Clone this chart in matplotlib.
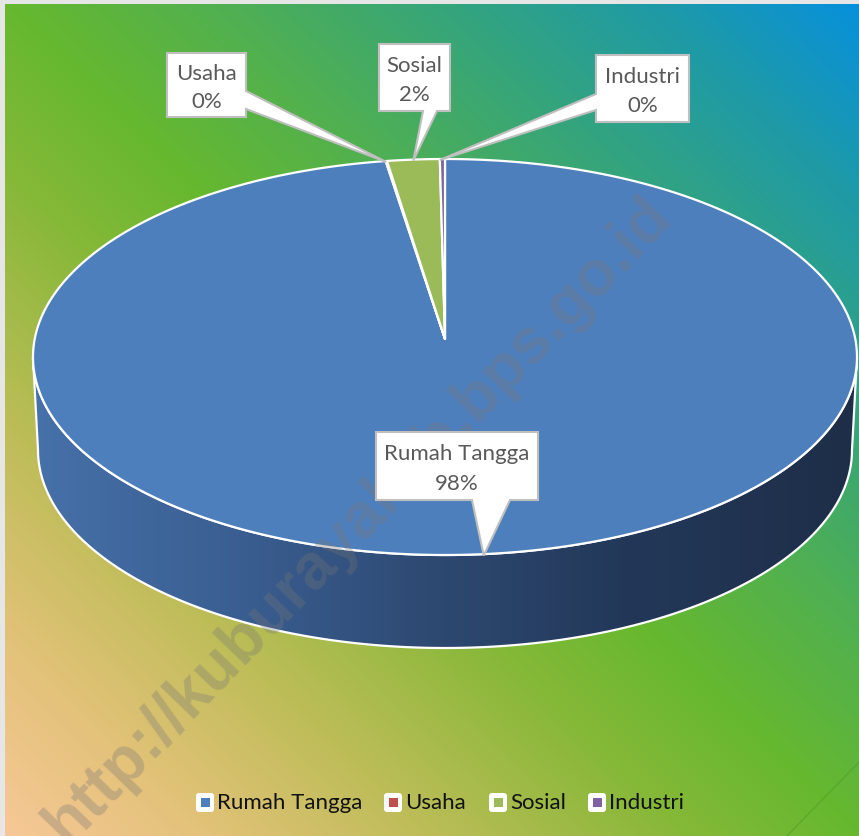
import numpy as np
import matplotlib
matplotlib.use('Agg')
import matplotlib.pyplot as plt
from matplotlib.patches import Polygon, FancyBboxPatch, Rectangle
from matplotlib.colors import to_rgb

# ---------------- data ----------------
categories = ['Rumah Tangga', 'Usaha', 'Sosial', 'Industri']
values = [97.7, 0.05, 2.05, 0.2]
pct_labels = ['98%', '0%', '2%', '0%']
colors = ['#4E7FBD', '#C0504D', '#9BBB59', '#8064A2']

W, H = 859, 837
fig = plt.figure(figsize=(W / 100, H / 100), dpi=100)
fig.patch.set_facecolor('#E6E6E6')
ax = fig.add_axes([0, 0, 1, 1])
ax.axis('off')

FONT = 'Lato'

# ---------------- background gradient ----------------
x0, y0 = 5, 5
yy, xx = np.mgrid[y0:H, x0:W] + 0.5
s = (xx / W + (H - yy) / H) / 2
stops = [0, .12, .25, .4, .5, .6, .75, .88, 1]
stop_cols = ['#F7C898', '#E3C279', '#BDBD58', '#86B838', '#66B82E',
             '#55B24A', '#36A57A', '#1E9AA8', '#0690DE']
rgb = np.array([to_rgb(c) for c in stop_cols])
img = np.stack([np.interp(s, stops, rgb[:, k]) for k in range(3)], axis=-1)
ax.imshow(img, extent=(x0, W, H, y0), zorder=0, interpolation='bilinear', aspect='auto')
# faint artefact line bottom right
ax.plot([787, 859], [837, 763], color='#4E9A2A', lw=1, alpha=0.5, zorder=1)

# ---------------- 3D pie geometry ----------------
cx, cy, a, b = 445, 358, 412, 198
depth, a_bot = 93, 407
apex = (445, 340)

fr = np.array(values) / sum(values)
angles = 90 - 360 * np.concatenate([[0], np.cumsum(fr)])


def rim(phi, ycen=cy, aa=a):
    p = np.radians(phi)
    return cx + aa * np.cos(p), ycen - b * np.sin(p)


# side wall
phi_top = np.linspace(180, 360, 300)
tx, ty = rim(phi_top)
bx, by = rim(phi_top[::-1], cy + depth, a_bot)
side_pts = np.column_stack([np.concatenate([tx, bx]), np.concatenate([ty, by])])
side = Polygon(side_pts, closed=True, facecolor='none', edgecolor='none', zorder=2)
ax.add_patch(side)
grad = np.linspace(0, 1, 256)
side_cols = np.array([to_rgb(c) for c in ['#4671A9', '#3A5E91', '#2D4870', '#233859', '#1E2E48']])
gpos = [0, .25, .5, .72, 1]
gimg = np.stack([np.interp(grad, gpos, side_cols[:, k]) for k in range(3)], axis=-1)[None, :, :]
gi = ax.imshow(gimg, extent=(cx - a, cx + a, cy + depth + b + 2, cy - 5), aspect='auto', zorder=2)
gi.set_clip_path(side)
ax.add_patch(Polygon(side_pts, closed=True, facecolor='none', edgecolor='white', lw=1.6, zorder=3))

# top slices
for i, c in enumerate(colors):
    ph = np.linspace(angles[i], angles[i + 1], max(3, int(abs(angles[i] - angles[i + 1]) * 2)))
    px, py = rim(ph)
    pts = np.column_stack([np.concatenate([[apex[0]], px]), np.concatenate([[apex[1]], py])])
    ax.add_patch(Polygon(pts, closed=True, facecolor=c, edgecolor='white', lw=1.6,
                         joinstyle='round', zorder=4))

# ---------------- watermark ----------------
ax.text(358, 520, 'http://kuburayakab.bps.go.id', rotation=46, ha='center', va='center',
        fontsize=46, fontweight='bold', family='Liberation Sans', color='#767676',
        alpha=0.32, zorder=5, rotation_mode='anchor')

# ---------------- callouts ----------------
boxes = {  # x0, y0, x1, y1
    'Rumah Tangga': (376, 433, 538, 501),
    'Usaha': (167, 54, 246, 118),
    'Sosial': (379, 45, 450, 112),
    'Industri': (596, 56, 689, 123),
}
mids = (angles[:-1] + angles[1:]) / 2


def callout(name, tip):
    X0, Y0, X1, Y1 = boxes[name]
    if name == 'Rumah Tangga':
        pts = [(X0, Y0), (X1, Y0), (X1, Y1), (510, Y1), tip, (472, Y1), (X0, Y1)]
    elif name == 'Usaha':
        pts = [(X0, Y0), (X1, Y0), (X1, 92), tip, (X1, 110), (X1, Y1), (X0, Y1)]
    elif name == 'Sosial':
        pts = [(X0, Y0), (X1, Y0), (X1, Y1), (437, Y1), tip, (423, Y1), (X0, Y1)]
    else:
        pts = [(X0, Y0), (X1, Y0), (X1, Y1), (X0, Y1), (X0, 111), tip, (X0, 95)]
    ax.add_patch(Polygon(pts, closed=True, facecolor='white', edgecolor='#BFBFBF',
                         lw=1.5, joinstyle='miter', zorder=6))


for i, name in enumerate(categories):
    tx_, ty_ = rim(mids[i])
    if name == 'Industri':
        tx_, ty_ = rim(angles[i])
    callout(name, (tx_ + (9 if name == 'Rumah Tangga' else 0), ty_ + 1))
    X0, Y0, X1, Y1 = boxes[name]
    xc = (X0 + X1) / 2
    hgt = Y1 - Y0
    ax.text(xc, Y0 + hgt * 0.31, name, ha='center', va='center', fontsize=16,
            family=FONT, color='#595959', zorder=7)
    ax.text(xc, Y0 + hgt * 0.75, pct_labels[i], ha='center', va='center', fontsize=16,
            family=FONT, color='#595959', zorder=7)

# ---------------- legend ----------------
leg_x = [196, 384, 489, 588]
leg_y = 803.5
for i, name in enumerate(categories):
    lx = leg_x[i]
    ax.add_patch(FancyBboxPatch((lx + 2, leg_y - 7.5), 14, 15,
                                boxstyle='round,pad=2,rounding_size=3',
                                facecolor='white', edgecolor='none', zorder=6))
    ax.add_patch(Rectangle((lx + 4.5, leg_y - 4.5), 9, 8.5, facecolor=colors[i],
                           edgecolor='none', zorder=7))
    ax.text(lx + 21, leg_y, name, ha='left', va='center', fontsize=16,
            family=FONT, color='#111111', zorder=7)

ax.set_xlim(0, W)
ax.set_ylim(H, 0)
fig.savefig('out.png', dpi=100, facecolor=fig.get_facecolor())
